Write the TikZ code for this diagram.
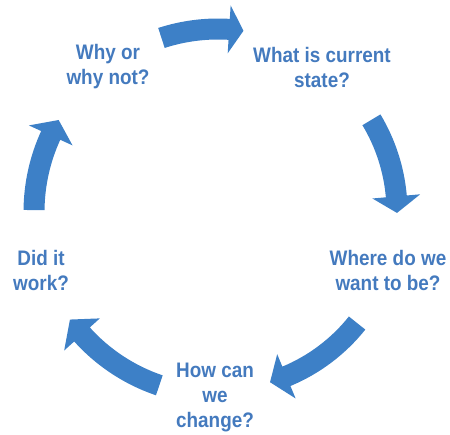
\documentclass[tikz,border=0pt]{standalone}
\usepackage{fontspec}
\setmainfont{Liberation Sans}[FakeStretch=0.9]
\usepackage{tikz}
\usetikzlibrary{calc}

\definecolor{arrowblue}{RGB}{61,128,199}
\definecolor{textblue}{RGB}{68,122,190}

\tikzset{
  question/.style={font=\bfseries\fontsize{21}{25}\selectfont, text=textblue, align=center, inner sep=0pt},
  cyclearrow/.style={fill=arrowblue}
}

\begin{document}
\begin{tikzpicture}[x=1pt, y=1pt]
        \useasboundingbox (0,0) rectangle (450,434);
        \coordinate (c) at (218, 222);

        \node[question] (why) at (108, 367) {Why or\\why not?};
        \node[question] (current) at (322, 367) {What is current\\state?};
        \node[question] (where) at (388, 164) {Where do we\\want to be?};
        \node[question] (how) at (215, 36.5) {How can\\we\\change?};
        \node[question] (did) at (41, 164) {Did it\\work?};

        % block arrows round the circle: tail angle / head base angle / tip angle / radius
        \foreach \aTail/\aBase/\aTip/\aRad in {108/86.5/82/183, 31/5/-0.3/179, -38.6/-67.4/-73/178, -108.7/-138/-144/183, 179.4/155.4/150/184} {
          \pgfmathsetmacro{\rOut}{\aRad+10.5}
          \pgfmathsetmacro{\rIn}{\aRad-10.5}
          \pgfmathsetmacro{\rBarbOut}{\aRad+24}
          \pgfmathsetmacro{\rBarbIn}{\aRad-24}
          \fill[cyclearrow] ($(c)+(\aTail:\rOut)$) arc[start angle=\aTail, end angle=\aBase, radius=\rOut]
            -- ($(c)+(\aBase:\rBarbOut)$) -- ($(c)+(\aTip:\aRad)$) -- ($(c)+(\aBase:\rBarbIn)$)
            -- ($(c)+(\aBase:\rIn)$) arc[start angle=\aBase, end angle=\aTail, radius=\rIn] -- cycle;
        }
      \end{tikzpicture}
\end{document}
